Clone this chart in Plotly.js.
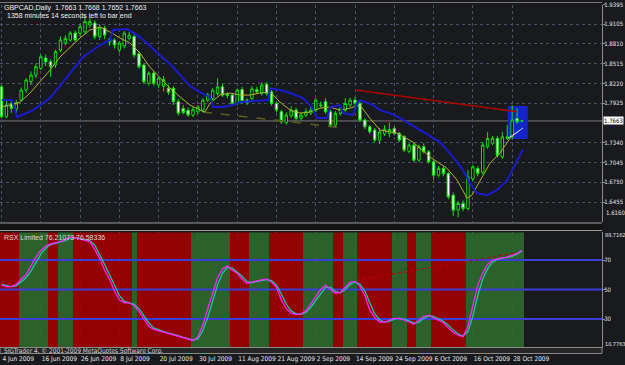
<!DOCTYPE html>
<html><head><meta charset="utf-8">
<script src="https://cdn.plot.ly/plotly-3.0.1.min.js"></script>
<style>html,body{margin:0;padding:0;background:#191a1e;overflow:hidden}#chart{width:625px;height:365px}</style>
</head><body><div id="chart"></div>
<script>
// ---- data ----
const headerText = 'GBPCAD,Daily  1.7663 1.7668 1.7652 1.7663';
const timerText = '1358 minutes 14 seconds left to bar end';
const rsxTitle = 'RSX Limited 76.21073 76.58336';
const copyrightText = 'SIGTrader 4, \u00a9 2001-2009 MetaQuotes Software Corp.';

const dateTickBars = [0, 8, 16, 24, 32, 40, 48, 56, 64, 72, 80, 88, 96, 104];
const dateTickLabels = ['4 Jun 2009','16 Jun 2009','26 Jun 2009','8 Jul 2009','20 Jul 2009','30 Jul 2009','11 Aug 2009','21 Aug 2009','2 Sep 2009','14 Sep 2009','24 Sep 2009','6 Oct 2009','16 Oct 2009','28 Oct 2009'];

const priceTicks = [1.9395, 1.9105, 1.8810, 1.8515, 1.8220, 1.7925, 1.7340, 1.7045, 1.6750, 1.6455];
const priceMin = 1.6160, priceMax = 1.9395;
const rsxMin = 10.7763, rsxMax = 88.7162;
const rsxLevels = [70, 50, 30];

const open = [1.8171,1.7725,1.7925,1.7840,1.7973,1.8122,1.8250,1.8346,1.8445,1.8600,
1.8545,1.8495,1.8718,1.8820,1.8867,1.8970,1.8967,1.8990,1.9090,1.9120,
1.8916,1.9045,1.8880,1.8867,1.8718,1.8780,1.8890,1.8920,1.8660,1.8495,
1.8225,1.8375,1.8197,1.8180,1.8150,1.8150,1.7950,1.7850,1.7820,1.7750,
1.7800,1.7824,1.7973,1.7995,1.8070,1.8170,1.8060,1.8048,1.7924,1.8130,
1.7973,1.7995,1.8130,1.8073,1.8210,1.8095,1.7924,1.7800,1.7640,1.7740,
1.7824,1.7700,1.7750,1.7780,1.7824,1.7900,1.7950,1.7800,1.7601,1.7775,
1.7824,1.7900,1.7973,1.7924,1.7676,1.7576,1.7527,1.7378,1.7470,1.7478,
1.7550,1.7478,1.7430,1.7210,1.7303,1.7080,1.7280,1.7205,1.7055,1.6857,
1.6955,1.6880,1.6559,1.6335,1.6435,1.6360,1.6800,1.6955,1.6900,1.7278,
1.7330,1.7403,1.7130,1.7403,1.7427,1.7700,1.7663];
const high = [1.8197,1.7973,1.7990,1.7975,1.8160,1.8300,1.8400,1.8520,1.8650,1.8650,
1.8580,1.8720,1.8920,1.8940,1.9000,1.9010,1.9110,1.9240,1.9200,1.9160,
1.9100,1.9080,1.8900,1.8890,1.8850,1.9000,1.8990,1.8950,1.8700,1.8520,
1.8400,1.8400,1.8320,1.8330,1.8200,1.8180,1.7990,1.7900,1.7860,1.7870,
1.7900,1.8000,1.8080,1.8150,1.8296,1.8210,1.8090,1.8070,1.8150,1.8170,
1.8000,1.8180,1.8170,1.8240,1.8240,1.8120,1.7950,1.7830,1.7790,1.7880,
1.7860,1.7790,1.7850,1.7870,1.8000,1.7950,1.8000,1.7830,1.7810,1.7880,
1.8000,1.8010,1.8020,1.7960,1.7700,1.7600,1.7560,1.7560,1.7600,1.7640,
1.7580,1.7500,1.7450,1.7330,1.7330,1.7310,1.7330,1.7230,1.7080,1.6990,
1.6990,1.6900,1.6600,1.6470,1.6480,1.6930,1.7010,1.6990,1.7350,1.7500,
1.7440,1.7440,1.7500,1.7600,1.7900,1.7850,1.7668];
const low = [1.7705,1.7705,1.7780,1.7760,1.7950,1.8080,1.8200,1.8300,1.8420,1.8480,
1.8320,1.8450,1.8690,1.8790,1.8840,1.8840,1.8920,1.8960,1.9050,1.8880,
1.8870,1.8880,1.8780,1.8740,1.8680,1.8740,1.8860,1.8600,1.8440,1.8210,
1.8190,1.8190,1.8150,1.8100,1.8050,1.7900,1.7740,1.7760,1.7720,1.7720,
1.7760,1.7800,1.7940,1.7970,1.8040,1.8020,1.8000,1.7890,1.7900,1.7920,
1.7900,1.7960,1.8070,1.8040,1.8040,1.7890,1.7790,1.7620,1.7610,1.7710,
1.7670,1.7670,1.7720,1.7750,1.7800,1.7860,1.7770,1.7570,1.7570,1.7740,
1.7800,1.7870,1.7890,1.7650,1.7540,1.7470,1.7350,1.7320,1.7440,1.7420,
1.7450,1.7350,1.7200,1.7180,1.7050,1.7050,1.7180,1.7030,1.6800,1.6830,
1.6840,1.6500,1.6250,1.6230,1.6320,1.6330,1.6770,1.6840,1.6870,1.7250,
1.7300,1.7120,1.7100,1.7380,1.7400,1.7620,1.7652];
const close = [1.7725,1.7899,1.7850,1.7930,1.8122,1.8271,1.8346,1.8470,1.8618,1.8540,
1.8470,1.8693,1.8867,1.8890,1.8970,1.8867,1.9065,1.9140,1.9140,1.8916,
1.9045,1.8940,1.8840,1.8792,1.8820,1.8970,1.8940,1.8643,1.8470,1.8246,
1.8375,1.8225,1.8300,1.8280,1.8090,1.7950,1.7780,1.7790,1.7750,1.7830,
1.7870,1.7973,1.8048,1.8120,1.8170,1.8048,1.8040,1.7924,1.8122,1.7950,
1.7935,1.8140,1.8095,1.8197,1.8073,1.7924,1.7824,1.7650,1.7750,1.7824,
1.7700,1.7750,1.7800,1.7824,1.7973,1.7890,1.7800,1.7601,1.7775,1.7850,
1.7924,1.7973,1.7924,1.7676,1.7576,1.7502,1.7378,1.7500,1.7540,1.7537,
1.7478,1.7378,1.7229,1.7303,1.7080,1.7280,1.7205,1.7055,1.6857,1.6955,
1.6880,1.6534,1.6335,1.6435,1.6360,1.6832,1.6980,1.6880,1.7303,1.7403,
1.7403,1.7154,1.7427,1.7427,1.7676,1.7650,1.7663];

// moving averages read as (bar, price) points
const blueBars = [0,2.1,3.2,6.4,9.9,13.3,16.6,20.1,22.1,22.7,25.6,28.2,31.7,34.9,38.4,40.4,42.5,43.1,45.1,47.1,48.6,52,54.3,54.7,56.7,58.8,61.4,63.2,64.3,66.3,66.9,68.9,69.6,71.6,72.4,73,75.7,77.1,79.1,81.2,85.2,89.3,92,94,95.4,96.8,98.9,100.9,103,105,106.2];
const bluePrice = [1.7973,1.7973,1.7720,1.7824,1.8003,1.8316,1.8614,1.8792,1.8867,1.9016,1.9031,1.8911,1.8673,1.8465,1.8182,1.8093,1.8018,1.7869,1.7869,1.7899,1.7944,1.7958,1.7973,1.8152,1.8122,1.8078,1.8003,1.7869,1.7705,1.7705,1.7869,1.7899,1.7780,1.7750,1.7929,1.7973,1.7899,1.7824,1.7780,1.7705,1.7527,1.7348,1.7125,1.6931,1.6738,1.6589,1.6559,1.6633,1.6782,1.7080,1.7244];
const yellowBars = [0,1.7,3.8,5.8,7.8,9.9,11.9,14,16,18,20.1,22.1,24.1,26.2,28.2,30.2,32.3,34.3,36.4,38.4,40.4,41.4,42.5,44.5,46.5,48.6,50.6,52.6,54.7,56.7,58.8,60.8,62.8,64.9,66.9,68.9,71,73,75,77.1,80.5,83.8,87.3,90.7,92.8,94.8,95.8,97.5,99.5,101.5,103.6,105.6];
const yellowPrice = [1.7869,1.7899,1.7944,1.8078,1.8241,1.8420,1.8614,1.8763,1.8897,1.9016,1.9060,1.8986,1.8897,1.8822,1.8673,1.8465,1.8301,1.8152,1.8018,1.7899,1.7824,1.7795,1.7929,1.8048,1.8078,1.8048,1.8048,1.8078,1.8093,1.7944,1.7824,1.7780,1.7795,1.7854,1.7869,1.7824,1.7854,1.7899,1.7705,1.7527,1.7482,1.7348,1.7125,1.6961,1.6782,1.6514,1.6559,1.6782,1.7035,1.7184,1.7408,1.7527];
const lavenderBars = [103.2, 106.2];
const lavenderPrice = [1.7408, 1.7557];
const redTrendBars = [72.1, 105];
const redTrendPrice = [1.8122, 1.7800];
const oliveTrendBars = [41, 68.3];
const oliveTrendPrice = [1.7795, 1.7571];
const zoneBars = [103.1, 107.2];
const zonePrice = [1.7393, 1.7884];

// RSX indicator
const rsxMagenta = [53,52,52,53.5,57,60,66,72,76.5,79.5,81,81.5,82.5,84,85.5,85,84,83.5,82.5,77,
71,63,57,49,43,41,41,39,35,30,25,23,22,21,20,19.5,18,17,16,15.5,
18,26,37,48,58,64,66,63,61,57,54,55,56,56.5,57,55,51.5,43,37,34,
33,33.5,35.5,40,45,50,53,50,47.5,48,51.5,55,55.5,52,46,36,31,28,28,29,
30.5,30.5,29.5,28,26.5,29,32,32.5,31,29.5,27.5,24,21,19,18,25,40,53,61,67,
70,71,71.5,72,73,74.5,76.58336];
const rsxTeal = [53.5,52.5,52,52.5,55,58,62.5,68.5,74,78,80.5,81.2,82,83.2,84.8,85.2,84.5,83.8,83,80,
74,67,60,53,46,42,41,40,37,32.5,27.5,24,22.5,21.5,20.5,19.8,18.8,17.5,16.5,15.8,
16.5,22,31,42,53,61,65,64.5,62,59,55.5,54.5,55.5,56.2,56.8,56,53,47,40,35.5,
33.5,33.2,34.5,38,42.5,47.5,51.5,51.5,48.8,47.8,50,53.5,55.2,53.5,49,41,33.5,29.5,28,28.5,
30,30.5,30,28.8,27.2,27.8,30.5,32.2,31.8,30.2,28.5,25.8,22.5,20,18.5,21.5,32,46,57,64,
68.5,70.5,71.2,71.8,72.5,74,76.21073];
// 1 = rising (green band), 0 = falling (red band)
const rsxState = [0,0,0,0,1,1,1,1,1,1,0,0,1,1,1,0,0,0,0,0,
0,0,0,0,0,0,0,1,0,0,0,0,0,0,0,0,0,0,0,1,
1,1,1,1,1,1,1,0,0,0,0,1,1,1,1,0,0,0,0,0,
0,0,1,1,1,1,1,1,0,0,1,1,1,0,0,0,0,0,0,0,
1,1,1,0,0,1,1,1,0,0,0,0,0,0,0,1,1,1,1,1,
1,1,1,1,1,1,1];
const rsxTrendBars = [72.4, 106];
const rsxTrendValue = [56.4, 75.4];

// ---- build ----
const nBars = close.length;
const barIdx = close.map((_, i) => i);
const BG = '#191a1e';
const GRID = '#4a5068';
const AX = '#8c8c8c';
const FONT = 'Liberation Sans Narrow, DejaVu Sans Condensed, Arial Narrow, sans-serif';
const TXT = '#e6e6e6';
const FS = 6.5;
const YFS = 6;
const xr = [-0.31, 122.3];

const traces = [];
traces.push({type:'bar', x:barIdx, y:barIdx.map(() => rsxMax - rsxMin), base:rsxMin,
  marker:{color:rsxState.map(s => s ? '#2e6b2e' : '#a30000'), line:{width:0}},
  width:1, opacity:0.9, xaxis:'x', yaxis:'y2', hoverinfo:'skip'});
rsxLevels.forEach(l => traces.push({type:'scatter', mode:'lines', x:xr, y:[l,l], xaxis:'x', yaxis:'y2',
  line:{color:'#3a3fd8', width:2}, hoverinfo:'skip'}));
traces.push({type:'scatter', mode:'lines', x:rsxTrendBars, y:rsxTrendValue, xaxis:'x', yaxis:'y2',
  line:{color:'#c00000', width:1.2, dash:'dot'}});
traces.push({type:'scatter', mode:'lines', x:barIdx, y:rsxTeal, xaxis:'x', yaxis:'y2',
  line:{color:'#19c8a0', width:1.3}});
traces.push({type:'scatter', mode:'lines', x:barIdx, y:rsxMagenta, xaxis:'x', yaxis:'y2',
  line:{color:'#ff22ff', width:1.3}});

traces.push({type:'scatter', mode:'lines', x:oliveTrendBars, y:oliveTrendPrice, xaxis:'x', yaxis:'y',
  line:{color:'#5f5f1c', width:1.5, dash:'dash'}});
traces.push({type:'candlestick', x:barIdx, open:open, high:high, low:low, close:close, xaxis:'x', yaxis:'y',
  increasing:{line:{color:'#10e010', width:1}, fillcolor:'#000000'},
  decreasing:{line:{color:'#10e010', width:1}, fillcolor:'#ffffff'}, whiskerwidth:0});
traces.push({type:'scatter', mode:'lines', x:yellowBars, y:yellowPrice, xaxis:'x', yaxis:'y',
  line:{color:'#b4b42a', width:1}});
traces.push({type:'scatter', mode:'lines', x:blueBars, y:bluePrice, xaxis:'x', yaxis:'y',
  line:{color:'#1a1ad0', width:2}});
traces.push({type:'scatter', mode:'lines', x:lavenderBars, y:lavenderPrice, xaxis:'x', yaxis:'y',
  line:{color:'#c8c8ff', width:1}});
traces.push({type:'scatter', mode:'lines', x:redTrendBars, y:redTrendPrice, xaxis:'x', yaxis:'y',
  line:{color:'#b00000', width:1.5}});

const frac = y => (348 - y) / 346;

const layout = {
  width:625, height:365, margin:{l:0, r:23, t:2, b:17},
  paper_bgcolor:BG, plot_bgcolor:BG, showlegend:false, bargap:0,
  font:{family:FONT, size:FS, color:TXT},
  xaxis:{range:xr, anchor:'y2', tickmode:'array', tickvals:dateTickBars, ticktext:dateTickLabels,
    ticklabelposition:'outside right', ticklabelstandoff:5, tickangle:0, ticks:'outside', ticklen:3, tickcolor:AX,
    showgrid:true, gridcolor:GRID, griddash:'dot', gridwidth:1, zeroline:false,
    showline:true, linecolor:AX, rangeslider:{visible:false}, fixedrange:true,
    tickfont:{size:FS, color:TXT}},
  yaxis:{domain:[frac(222), frac(4.5)], range:[priceMin, priceMax], side:'right',
    tickmode:'array', tickvals:priceTicks, ticktext:priceTicks.map(v => v.toFixed(4)),
    ticks:'outside', ticklen:2, ticklabelstandoff:-2, tickcolor:AX, showgrid:true, gridcolor:GRID, griddash:'dot',
    zeroline:false, showline:true, linecolor:AX, tickfont:{size:YFS, color:TXT}},
  yaxis2:{domain:[frac(347.4), frac(232.4)], range:[rsxMin, rsxMax], side:'right',
    tickmode:'array', tickvals:rsxLevels, ticktext:rsxLevels.map(String),
    ticks:'outside', ticklen:2, ticklabelstandoff:-2, tickcolor:AX, showgrid:false, zeroline:false, showline:true, linecolor:AX,
    tickfont:{size:YFS, color:TXT}},
  shapes:[
    {type:'rect', xref:'x', yref:'y', x0:zoneBars[0], x1:zoneBars[1], y0:zonePrice[0], y1:zonePrice[1],
      fillcolor:'#1424c8', line:{width:0}, layer:'below'},
    {type:'line', xref:'x domain', yref:'y', x0:0, x1:1, y0:close[nBars-1], y1:close[nBars-1],
      line:{color:'#7a7a7a', width:1}, layer:'below'},
    {type:'rect', xref:'paper', yref:'paper', x0:0, x1:1, y0:frac(230.5), y1:frac(223),
      fillcolor:'#141414', line:{width:0}},
    {type:'line', xref:'paper', yref:'paper', x0:0, x1:1, y0:frac(223), y1:frac(223), line:{color:'#9a9a9a', width:1}},
    {type:'line', xref:'paper', yref:'paper', x0:0, x1:1, y0:frac(230.5), y1:frac(230.5), line:{color:'#9a9a9a', width:1}},
    {type:'line', xref:'paper', yref:'paper', x0:0, x1:1, y0:frac(2.5), y1:frac(2.5), line:{color:'#777777', width:1}},
    {type:'rect', xref:'paper', yref:'paper', x0:0, x1:1, y0:frac(353.5), y1:frac(347.5),
      fillcolor:'#262626', line:{color:'#8a8a8a', width:1}}
  ],
  annotations:[
    {xref:'paper', yref:'paper', x:0.004, y:frac(1.5), xanchor:'left', yanchor:'top', showarrow:false,
      text:headerText, font:{size:7, color:'#f0f0f0', family:'Liberation Sans, Arial, sans-serif'}},
    {xref:'paper', yref:'paper', x:0.008, y:frac(10), xanchor:'left', yanchor:'top', showarrow:false,
      text:timerText, font:{size:7, color:'#f0f0f0', family:'Liberation Sans, Arial, sans-serif'}},
    {xref:'paper', yref:'paper', x:0.004, y:frac(232), xanchor:'left', yanchor:'top', showarrow:false,
      text:rsxTitle, font:{size:7, color:'#d8d8d8', family:'Liberation Sans, Arial, sans-serif'}},
    {xref:'paper', yref:'paper', x:0.004, y:frac(350.5), xanchor:'left', yanchor:'middle', showarrow:false,
      text:copyrightText, font:{size:FS, color:'#cfcfcf'}},
    {xref:'paper', yref:'paper', x:1, y:frac(212), xanchor:'left', yanchor:'middle', xshift:2, showarrow:false,
      text:priceMin.toFixed(4), font:{size:YFS, color:TXT}},
    {xref:'paper', yref:'paper', x:1, y:frac(235), xanchor:'left', yanchor:'middle', xshift:1, showarrow:false,
      text:rsxMax.toFixed(4), font:{size:5.5, color:TXT}},
    {xref:'paper', yref:'paper', x:1, y:frac(344), xanchor:'left', yanchor:'middle', xshift:1, showarrow:false,
      text:rsxMin.toFixed(4), font:{size:5.5, color:TXT}},
    {xref:'paper', yref:'y', x:1, y:close[nBars-1], xanchor:'left', yanchor:'middle', xshift:1, showarrow:false,
      text:close[nBars-1].toFixed(4), bgcolor:'#ffffff', font:{size:YFS, color:'#000000'}, borderpad:0}
  ]
};

Plotly.newPlot('chart', traces, layout, {staticPlot:true, displayModeBar:false});
</script>
</body></html>
